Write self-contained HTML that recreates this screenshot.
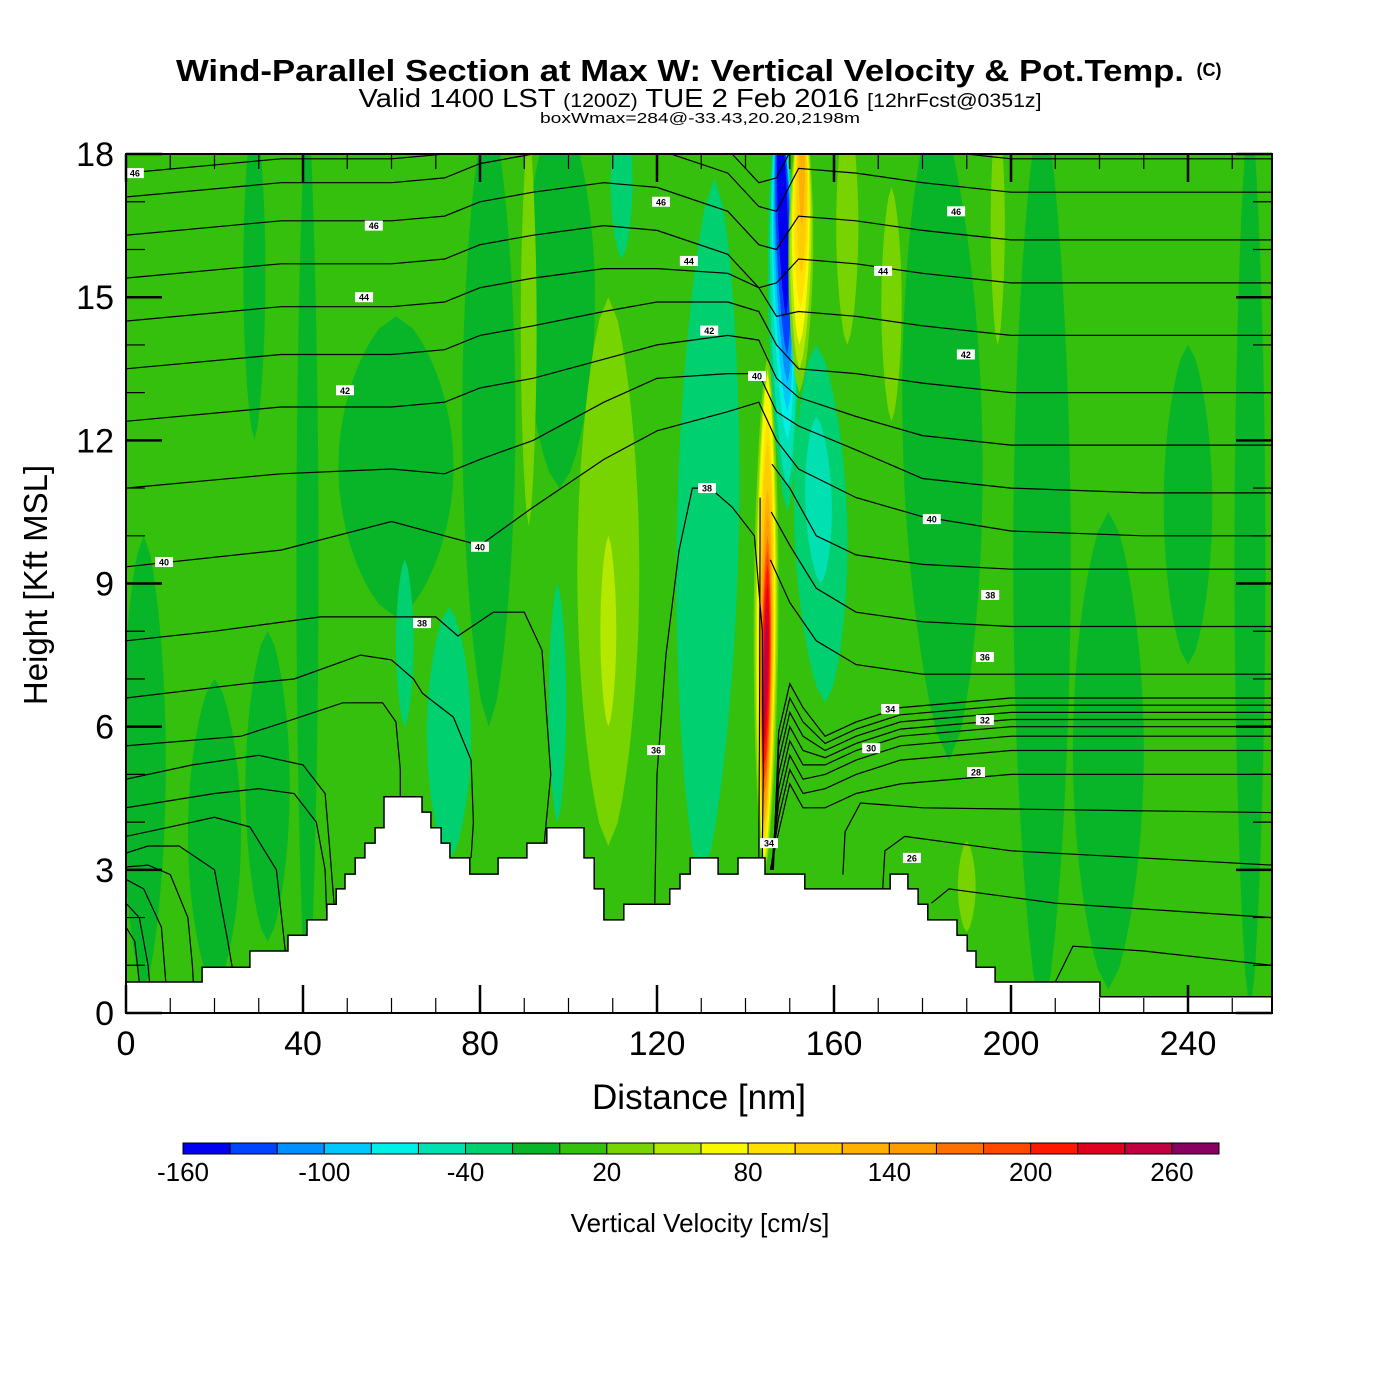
<!DOCTYPE html>
<html><head><meta charset="utf-8"><style>
html,body{margin:0;padding:0;background:#fff;}
svg{display:block;}
text{font-family:"Liberation Sans",Arial,sans-serif;}
</style></head>
<body>
<svg id="chart" width="1400" height="1400" viewBox="0 0 1400 1400" xmlns="http://www.w3.org/2000/svg">
<rect x="0" y="0" width="1400" height="1400" fill="#fff"/>
<defs><clipPath id="plotclip"><rect x="126" y="154" width="1146" height="859"/></clipPath></defs>
<g>
<text x="680" y="81" text-anchor="middle" font-size="31" font-weight="bold" textLength="1008" lengthAdjust="spacingAndGlyphs">Wind-Parallel Section at Max W: Vertical Velocity &amp; Pot.Temp.</text>
<text x="1209" y="76" text-anchor="middle" font-size="18" font-weight="bold">(C)</text>
</g>
<text x="700" y="107" text-anchor="middle" font-size="26" textLength="683" lengthAdjust="spacingAndGlyphs"><tspan>Valid 1400 LST </tspan><tspan font-size="19">(1200Z)</tspan><tspan> TUE 2 Feb 2016 </tspan><tspan font-size="19">[12hrFcst@0351z]</tspan></text>
<text x="700" y="123" text-anchor="middle" font-size="15" textLength="320" lengthAdjust="spacingAndGlyphs">boxWmax=284@-33.43,20.20,2198m</text>
<g id="field" clip-path="url(#plotclip)"></g>
<g id="axes"></g>
<g id="cbar"></g>
<text x="699" y="1109" text-anchor="middle" font-size="35">Distance [nm]</text>
<text transform="translate(47,585) rotate(-90)" text-anchor="middle" font-size="33">Height [Kft MSL]</text>
<text x="700" y="1232" text-anchor="middle" font-size="26">Vertical Velocity [cm/s]</text>
</svg>
<script>
// ---- data ----
const binColors = ["#0000f0","#0044ff","#0090ff","#00c8ff","#00f0e8","#00e0b0","#00d070","#08b428","#34c00c","#78d400","#b4e800","#f8f800","#ffe000","#ffcc00","#ffb000","#ff9c00","#ff7000","#ff4800","#ff1800","#e00020","#c00040","#880060"];
const cbarTickValues = [-160,-100,-40,20,80,140,200,260];
const xTickValues = [0,40,80,120,160,200,240];
const yTickValues = [0,3,6,9,12,15,18];
const baseW = 10;
// plumes: top center nm, bottom center nm, top kft, bottom kft, half-width nm, W value
const plumeXTop =    [29,41,61,82,98,4,20,32,183,207,240,254,222,163,173,197,190,91,109,109,112,133,73,63,97.5,156,156];
const plumeXBot =    [29,41,61,82,98,4,20,32,186,207,240,254,222,163,173,197,190,91,109,109,112,130,73,63,97.5,158,157];
const plumeTop =     [19,19,14.6,19,19,10,7,8,19,19,14,19,10.5,19,17.3,19,3.6,18.5,15,10,19,17.5,8.5,9.5,9,14,12.5];
const plumeBot =     [12,0,8.3,6,11,0.5,0.5,1.5,5.3,0,7.3,0,0.5,14,12.4,14,1.7,10.2,3.5,6,15.8,2.8,3.2,6,4,6.5,9];
const plumeHW =      [2.5,2.5,13,6,8,5,6,5,9,6.5,5.5,3.5,8,2.5,2.3,1.6,2,1.8,7,1.8,2.5,7,5,2,2,6,3];
const plumeW =       [-10,-10,-10,-10,-10,-10,-10,-10,-10,-10,-10,-10,-10,30,30,30,30,30,30,50,-30,-30,-30,-30,-30,-30,-50];
// updraft / downdraft core layers
const coreXTop = [145.0,145.0,145.0,145.0,145.0,145.0,145.0,145.0,145.0,145.0,145.0,145.0, 147.6,147.6,147.6,147.6,147.6,147.6,147.6, 152.8,152.8,152.8,152.8,152.8,152.8];
const coreXBot = [144.3,144.3,144.3,144.3,144.3,144.3,144.3,144.3,144.3,144.3,144.3,144.3, 149.5,149.5,149.5,149.5,149.5,149.4,149.2, 152.2,152.2,152.2,152.4,152.6,152.7];
const coreTop =  [13.8,13.5,13.4,12.5,12,11,10.5,10,9.7,9.4,9,8.5, 19,19,19,19,19,19,19, 19,19,19,19,19,19];
const coreBot =  [2.9,3.0,3.2,3.5,3.8,4,4.3,4.6,4.9,5.2,5.6,6.1, 10.5,11,12,12.6,13.2,13.8,14.6, 13,13.5,14,14.8,15.5,16.5];
const coreHW =   [2.8,2.4,2.1,1.8,1.6,1.4,1.25,1.1,1.0,0.85,0.6,0.35, 3.4,2.9,2.5,2.2,1.9,1.6,1.1, 2.8,2.4,2.0,1.6,1.2,0.7];
const coreW =    [30,50,70,90,110,130,150,170,190,210,230,250, -30,-50,-70,-90,-110,-130,-150, 30,50,70,90,110,130];
// terrain steps: segment end (nm) and height (kft)
const terrainEnd = [17.2,28.0,36.6,40.9,45.4,47.5,49.5,51.8,54.0,56.3,58.3,66.9,68.9,71.2,73.2,77.7,84.1,90.6,95.1,103.5,105.8,108.0,112.5,122.9,125.2,127.5,133.8,138.3,144.4,153.4,172.7,176.7,179.0,181.2,187.8,190.1,192.1,196.4,220.1,260];
const terrainH =   [0.65,0.96,1.30,1.63,1.95,2.28,2.60,2.91,3.25,3.56,3.88,4.53,4.21,3.88,3.56,3.25,2.91,3.25,3.56,3.88,3.25,2.60,1.95,2.28,2.60,2.91,3.25,2.91,3.25,2.91,2.60,2.91,2.60,2.28,1.95,1.63,1.30,0.96,0.65,0.34];
// isentropes on shared columns
const upperCols = [0,35,60,72,80,92,108,120,136,143,147,152,165,180,200,230,259];
const thetaA = [17.6,17.9,17.9,18.0,18.3,18.5,18.7,18.6,18.1,17.4,17.5,18.4,18.3,18.1,17.9,17.9,17.9];
const thetaB = [17.1,17.4,17.4,17.5,17.8,18.0,18.2,18.1,17.6,16.9,16.8,17.7,17.6,17.4,17.2,17.2,17.2];
const thetaC = [16.3,16.6,16.6,16.7,17.0,17.2,17.4,17.3,16.8,16.1,16.0,16.7,16.6,16.4,16.2,16.2,16.2];
const thetaD = [15.4,15.7,15.7,15.8,16.1,16.3,16.5,16.4,15.9,15.2,15.3,15.8,15.7,15.5,15.3,15.3,15.3];
const thetaE = [14.5,14.8,14.8,14.9,15.2,15.4,15.6,15.6,15.5,15.2,14.6,14.7,14.6,14.4,14.2,14.2,14.2];
const thetaF = [13.5,13.8,13.8,13.9,14.2,14.4,14.7,14.9,14.9,14.7,14.0,13.5,13.4,13.2,13.0,13.0,13.0];
const thetaG = [12.4,12.7,12.7,12.8,13.1,13.3,13.7,14.0,14.2,14.1,13.3,12.9,12.5,12.1,11.9,11.9,11.9];
const thetaH = [11.0,11.3,11.4,11.3,11.6,12.0,12.8,13.3,13.4,13.4,12.6,12.3,11.8,11.2,11.0,10.9,10.9];
const thetaI = [9.35,9.7,10.3,10.0,9.8,10.6,11.6,12.2,12.6,12.8,12.0,11.4,10.8,10.4,10.1,10.0,10.0];
// free-form isentrope segments as [nm,kft] pairs
const thetaSegments = [
 [[146,11.5],[150,11.0],[156,10.0],[165,9.6],[180,9.4],[200,9.3],[259,9.3]],
 [[145.8,10.5],[150,9.8],[156,8.9],[165,8.4],[180,8.2],[200,8.1],[259,8.1]],
 [[145.6,9.5],[150,8.6],[156,7.8],[165,7.3],[180,7.1],[259,7.1]],
 [[146.3,3.0],[147.5,5.9],[150,6.9],[153,6.4],[158,5.8],[165,6.1],[175,6.4],[200,6.6],[259,6.6]],
 [[146.2,3.0],[147.5,5.6],[150,6.6],[153,6.1],[158,5.65],[165,5.95],[175,6.25],[200,6.45],[259,6.45]],
 [[146.1,3.0],[147.5,5.3],[150,6.3],[153,5.8],[158,5.5],[165,5.8],[175,6.1],[200,6.3],[259,6.3]],
 [[146.0,3.0],[147.5,5.0],[150,6.0],[153,5.5],[158,5.35],[165,5.65],[175,5.95],[200,6.15],[259,6.15]],
 [[145.9,3.0],[147.5,4.7],[150,5.7],[153,5.2],[158,5.2],[165,5.5],[175,5.8],[200,6.0],[259,6.0]],
 [[145.8,3.0],[147.5,4.4],[150,5.4],[153,4.9],[158,5.0],[165,5.3],[175,5.6],[200,5.8],[259,5.8]],
 [[145.7,3.0],[147.5,4.1],[150,5.1],[153,4.6],[158,4.7],[165,5.0],[175,5.3],[200,5.5],[259,5.5]],
 [[145.6,3.0],[147.5,3.8],[150,4.8],[153,4.3],[158,4.3],[165,4.6],[175,4.8],[200,5.0],[259,5.0]],
 [[162,2.9],[162.5,3.8],[166,4.4],[180,4.3],[259,4.2]],
 [[171,2.6],[171.5,3.4],[176,3.7],[200,3.4],[259,3.1]],
 [[182,2.3],[186,2.6],[210,2.3],[259,2.0]],
 [[210,0.65],[214,1.4],[230,1.3],[259,1.0]],
 [[119.5,2.3],[120,5],[122,7.5],[125,9.7],[128,11.0],[132,11.0],[137,10.6],[142,10.0],[143.8,8],[144,5],[143.8,3.25]],
 [[143.3,10.8],[143.2,7],[143.0,3.25]],
 [[0,7.8],[20,8.0],[44,8.3],[63,8.3],[70,8.3],[75,7.9],[83,8.4],[90,8.4],[94,7.6],[96,5.0],[94.5,3.56]],
 [[0,6.6],[27,6.9],[38,7.0],[53,7.5],[60,7.4],[65,7.0],[67,6.7],[74,6.2],[78,5.3],[78.5,4.0],[78,3.25]],
 [[0,5.6],[26,5.8],[36,6.1],[49,6.5],[58,6.5],[61,6.1],[62,5.1],[62,4.53]],
 [[0,4.9],[15,5.2],[30,5.4],[40,5.2],[45,4.6],[46,3.5],[47,2.3]],
 [[0,4.3],[20,4.6],[30,4.7],[38,4.6],[43,4.0],[45,3.0],[45.4,1.95]],
 [[0,3.7],[10,3.9],[20,4.1],[28,3.9],[34,3.0],[36,1.3]],
 [[0,3.35],[5,3.5],[12,3.5],[20,3.0],[23,1.5],[24,0.96]],
 [[0,3.06],[5,3.1],[10,2.9],[14,2.0],[15,1.0],[15.2,0.65]],
 [[0,2.8],[4,2.6],[8,1.8],[9,0.65]],
 [[0,2.3],[3,2.0],[5,1.0],[5.3,0.65]],
 [[0,1.8],[2,1.5],[3,0.65]]
];
const labelX = [2.0,56.0,53.8,49.5,120.9,127.2,131.8,142.6,131.3,80.0,66.9,8.6,187.6,171.1,189.8,182.1,195.3,194.1,194.1,192.1,172.7,168.4,119.8,145.3,177.6];
const labelK = [17.6,16.5,15.0,13.05,17.0,15.76,14.3,13.35,11.0,9.77,8.17,9.45,16.8,15.55,13.8,10.35,8.76,7.46,6.14,5.05,6.37,5.55,5.51,3.56,3.25];
const labelText = ["46","46","44","42","46","44","42","40","38","40","38","40","46","44","42","40","38","36","32","28","34","30","36","34","26"];

// ---- axes functions ----
const X = nm => 126 + nm * 4.425;
const Y = k => 1013 - k * 47.72;
const colorOf = v => binColors[Math.max(0, Math.min(21, Math.floor((v + 160) / 20)))];
const NS = "http://www.w3.org/2000/svg";
function mk(tag, attrs, parent) { const e = document.createElementNS(NS, tag); for (const a in attrs) e.setAttribute(a, attrs[a]); parent.appendChild(e); return e; }
const field = document.getElementById("field");
const axes = document.getElementById("axes");
const cbar = document.getElementById("cbar");

const bg = mk("rect", {x:126, y:154, width:1146, height:859, fill:colorOf(baseW)}, field);



function lens(xt, xb, kt, kb, hw) {
  const n = 24, L = [], R = [];
  for (let i = 0; i <= n; i++) {
    const t = i / n;
    const cx = xt + (xb - xt) * t, k = kt + (kb - kt) * t;
    const w = hw * Math.pow(Math.sin(Math.PI * t), 0.6);
    L.push(X(cx - w).toFixed(1) + "," + Y(k).toFixed(1));
    R.unshift(X(cx + w).toFixed(1) + "," + Y(k).toFixed(1));
  }
  return L.concat(R).join(" ");
}
for (let i = 0; i < plumeW.length; i++) {
  const p = mk("polygon", {points: lens(plumeXTop[i], plumeXBot[i], plumeTop[i], plumeBot[i], plumeHW[i]), fill: colorOf(plumeW[i])}, field);
  
  
}
for (let i = 0; i < coreW.length; i++) {
  const p = mk("polygon", {points: lens(coreXTop[i], coreXBot[i], coreTop[i], coreBot[i], coreHW[i]), fill: colorOf(coreW[i])}, field);
  
  
}
// terrain
let tp = [X(0) + "," + Y(-1)], prev = 0;
for (let i = 0; i < terrainEnd.length; i++) {
  tp.push(X(prev).toFixed(1) + "," + Y(terrainH[i]).toFixed(1));
  tp.push(X(terrainEnd[i]).toFixed(1) + "," + Y(terrainH[i]).toFixed(1));
  prev = terrainEnd[i];
}
tp.push(X(prev) + "," + Y(-1));
const terr = mk("polygon", {points: tp.join(" "), fill:"#fff", stroke:"#000", "stroke-width":1.5}, field);



// isentropes
function drawLine(pts) {
  const pl = mk("polyline", {points: pts.map(p => X(p[0]).toFixed(1) + "," + Y(p[1]).toFixed(1)).join(" "), fill:"none", stroke:"#000", "stroke-width":1.2}, field);
  
  
}
[thetaA, thetaB, thetaC, thetaD, thetaE, thetaF, thetaG, thetaH, thetaI].forEach(arr => drawLine(arr.map((k, j) => [upperCols[j], k])));
thetaSegments.forEach(drawLine);
for (let i = 0; i < labelText.length; i++) {
  const g = mk("g", {}, field);
  
  
  mk("rect", {x: X(labelX[i]) - 9, y: Y(labelK[i]) - 5, width: 18, height: 10, fill:"#fff"}, g);
  const t = mk("text", {x: X(labelX[i]), y: Y(labelK[i]) + 3.5, "text-anchor":"middle", "font-size":9, "font-weight":"bold"}, g);
  t.textContent = labelText[i];
}

// frame and ticks
const fr = mk("rect", {x:126, y:154, width:1146, height:859, fill:"none", stroke:"#000", "stroke-width":2}, axes);


for (let v = 0; v <= 259; v += 10) {
  const major = v % 40 === 0, len = major ? 28 : 15, w = major ? 2.5 : 1.2;
  const t1 = mk("line", {x1:X(v), x2:X(v), y1:1013, y2:1013 - len, stroke:"#000", "stroke-width":w}, axes);
  
  
  const t2 = mk("line", {x1:X(v), x2:X(v), y1:154, y2:154 + len, stroke:"#000", "stroke-width":w}, axes);
  
  
}
for (let v = 0; v <= 18; v += 1) {
  const major = v % 3 === 0, len = major ? 36 : 19, w = major ? 2.5 : 1.2;
  const t1 = mk("line", {x1:126, x2:126 + len, y1:Y(v), y2:Y(v), stroke:"#000", "stroke-width":w}, axes);
  
  
  const t2 = mk("line", {x1:1272, x2:1272 - len, y1:Y(v), y2:Y(v), stroke:"#000", "stroke-width":w}, axes);
  
  
}
xTickValues.forEach(v => {
  const t = mk("text", {x:X(v), y:1055, "text-anchor":"middle", "font-size":34}, axes);
  
  
  t.textContent = v;
});
yTickValues.forEach(v => {
  const t = mk("text", {x:114, y:Y(v) + 12, "text-anchor":"end", "font-size":34}, axes);
  
  
  t.textContent = v;
});

// colorbar
const cx0 = 183, cw = 1036 / binColors.length;
binColors.forEach((c, i) => {
  const r = mk("rect", {x: cx0 + i * cw, y:1143, width: cw, height: 11, fill: c, stroke:"#000", "stroke-width":1}, cbar);
  
  
});
cbarTickValues.forEach(v => {
  const t = mk("text", {x: cx0 + (v + 160) / 20 * cw, y:1181, "text-anchor":"middle", "font-size":26}, cbar);
  
  
  t.textContent = v;
});
</script>
</body></html>
